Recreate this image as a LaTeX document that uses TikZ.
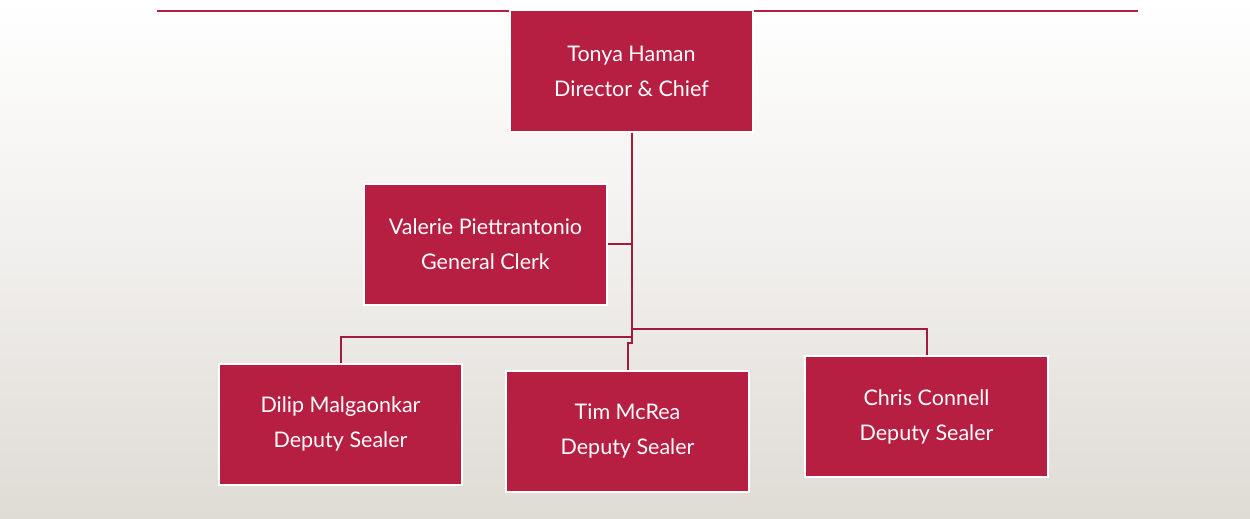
\documentclass[tikz,border=0pt]{standalone}
\usepackage{fontspec}
\setmainfont{Lato}
\definecolor{boxred}{RGB}{182,30,66}
\definecolor{linered}{RGB}{160,28,60}
\definecolor{bgbot}{RGB}{223,219,213}
\begin{document}
\begin{tikzpicture}[x=1pt,y=-1pt,
  box/.style={draw=white,line width=2pt,fill=boxred,text=white,
    minimum width=243pt,minimum height=121pt,align=center,inner sep=0pt,
    font=\fontsize{21.5}{35}\selectfont},
  conn/.style={draw=linered,line width=2pt},
  topline/.style={draw=boxred,line width=2.8pt}]
\shade[top color=white,bottom color=bgbot,middle color=white!55!bgbot,shading angle=0]
  (0,0) rectangle (1250,519);
\useasboundingbox (0,0) rectangle (1250,519);
\coordinate (tl) at (157,11);
\coordinate (tr) at (1138,11);
\draw[topline] (tl) -- (tr);
\node[box] (top) at (631.5,71) {Tonya Haman\\Director \& Chief};
\node[box] (clerk) at (485.5,244) {Valerie Piettrantonio\\General Clerk};
\node[box] (dilip) at (340.5,424) {Dilip Malgaonkar\\Deputy Sealer};
\node[box] (tim) at (627.5,431) {Tim McRea\\Deputy Sealer};
\node[box] (chris) at (926.5,416.5) {Chris Connell\\Deputy Sealer};
\coordinate (br) at (631.5,329);
\coordinate (bl) at (631.5,337);
\coordinate (jt) at (631.5,343);
\draw[conn] (top.south) -- (jt) -- (jt -| tim.north) -- (tim.north);
\draw[conn] (clerk.east) -- (clerk.east -| top.south);
\draw[conn] (br) -| (chris.north);
\draw[conn] (bl) -| (dilip.north);
\end{tikzpicture}
\end{document}
